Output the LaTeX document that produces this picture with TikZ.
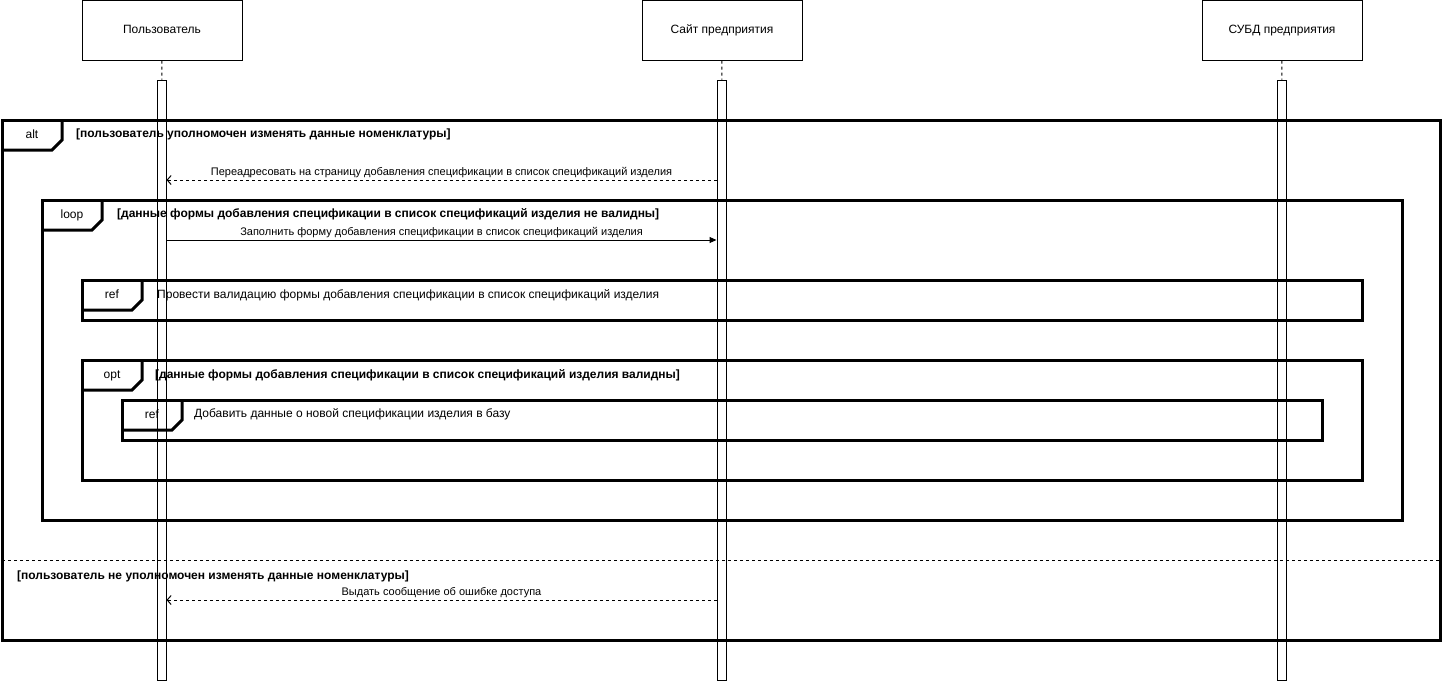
\documentclass[tikz,border=0pt]{standalone}
\usepackage{fontspec}
\setmainfont{Liberation Sans}
\usetikzlibrary{arrows.meta}

\begin{document}
\begin{tikzpicture}[x=1pt, y=-1pt,
    actor/.style={draw, line width=1pt, minimum width=160pt, minimum height=60pt, text height=8.5pt, text depth=2.5pt, font=\fontsize{12}{14}\selectfont},
    bar/.style={draw, line width=1pt, minimum width=9pt, minimum height=600pt, inner sep=0pt},
    life/.style={line width=1pt, dash pattern=on 3pt off 3pt},
    frag/.style={line width=3pt, line join=miter},
    tag/.style={font=\fontsize{12}{14}\selectfont, inner sep=0pt, text height=8.5pt, text depth=2.5pt},
    guard/.style={font=\bfseries\fontsize{12}{14}\selectfont, inner sep=0pt, anchor=west},
    note/.style={font=\fontsize{12}{14}\selectfont, inner sep=0pt, anchor=west},
    msg/.style={line width=1pt, -{Triangle[length=7pt, width=6pt]}},
    ret/.style={line width=1pt, dash pattern=on 3pt off 3pt, -{Straight Barb[length=4pt, width=9pt]}},
    lbl/.style={font=\fontsize{11}{13}\selectfont, inner sep=1.5pt, above}]
  \useasboundingbox (0,0) rectangle (1443,681);

  % lifelines
  \node[actor] (user) at (162,30) {Пользователь};
  \node[actor] (site) at (722,30) {Сайт предприятия};
  \node[actor] (dbms) at (1282,30) {СУБД предприятия};
  \node[bar] (userbar) at (161.5,380) {};
  \node[bar] (sitebar) at (721.5,380) {};
  \node[bar] (dbmsbar) at (1281.5,380) {};
  \draw[life] (user) -- (userbar);
  \draw[life] (site) -- (sitebar);
  \draw[life] (dbms) -- (dbmsbar);

  % fragments
  \foreach \n/\xa/\ya/\xb/\yb/\t in {alt/2/120/1440/640/alt, loop/42/200/1402/520/loop,
      refa/82/280/1362/320/ref, opt/82/360/1362/480/opt, refb/122/400/1322/440/ref} {
    \draw[frag] (\xa,\ya) rectangle (\xb,\yb);
    \draw[frag] (\xa,\ya+30) -- (\xa+50,\ya+30) -- (\xa+60,\ya+20) -- (\xa+60,\ya);
    \node[tag] (\n) at (\xa+30,\ya+15) {\t};
  }
  \draw[line width=1pt, dash pattern=on 3pt off 3pt] (2,560) -- (1440,560);

  \node[guard] (altg) at (76,134) {[пользователь уполномочен изменять данные номенклатуры]};
  \node[guard] (loopg) at (117,214) {[данные формы добавления спецификации в список спецификаций изделия не валидны]};
  \node[note] (refat) at (157,295) {Провести валидацию формы добавления спецификации в список спецификаций изделия};
  \node[guard] (optg) at (155,375) {[данные формы добавления спецификации в список спецификаций изделия валидны]};
  \node[note] (refbt) at (194,414) {Добавить данные о новой спецификации изделия в базу};
  \node[guard] (elseg) at (17,576) {[пользователь не уполномочен изменять данные номенклатуры]};

  % messages
  \draw[ret] (sitebar.west |- 0,180) -- node[lbl] (m1) {Переадресовать на страницу добавления спецификации в список спецификаций изделия} (userbar.east |- 0,180);
  \draw[msg] (userbar.east |- 0,240) -- node[lbl] (m2) {Заполнить форму добавления спецификации в список спецификаций изделия} (sitebar.west |- 0,240);
  \draw[ret] (sitebar.west |- 0,600) -- node[lbl] (m3) {Выдать сообщение об ошибке доступа} (userbar.east |- 0,600);
\end{tikzpicture}
\end{document}
